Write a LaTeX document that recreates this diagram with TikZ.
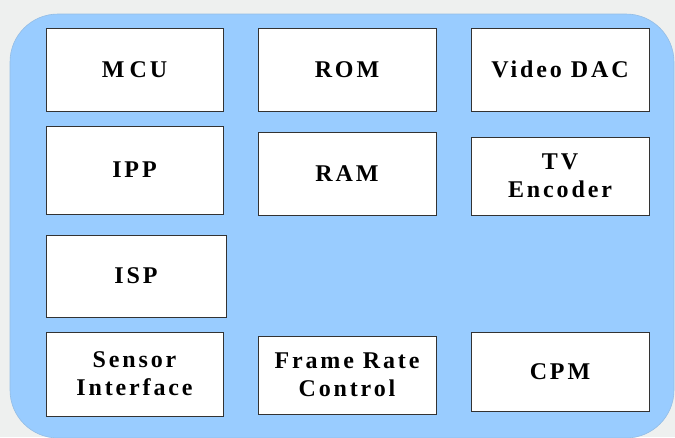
\documentclass[tikz,border=0pt]{standalone}
\usepackage{fontspec}
\setmainfont{Liberation Serif}[LetterSpace=12, BoldFont={Liberation Serif Bold}]
\definecolor{panel}{HTML}{99CCFF}
\definecolor{outside}{HTML}{EEF0EF}
\definecolor{boxline}{HTML}{333333}
\tikzset{
  block/.style={draw=boxline, line width=0.9pt, fill=white, inner sep=0pt,
    align=center, font=\fontsize{24}{28}\selectfont\bfseries, text=black},
}
\begin{document}
\begin{tikzpicture}[x=1pt,y=-1pt]
\fill[outside] (0,0) rectangle (675,437);
\useasboundingbox (0,0) rectangle (675,437);
\fill[panel, draw=panel!80!gray, line width=0.6pt, rounded corners=48pt] (10,14) rectangle (674,438);
\node[block, minimum width=177pt, minimum height=83pt] (mcu) at (134.5,69.5) {M\kern5pt CU};
\node[block, minimum width=178pt, minimum height=83pt] (rom) at (347,69.5) {ROM};
\node[block, minimum width=178pt, minimum height=83pt] (vdac) at (560,69.5) {Video DAC};
\node[block, minimum width=177pt, minimum height=88pt] (ipp) at (134.5,170) {IPP};
\node[block, minimum width=178pt, minimum height=83pt] (ram) at (347,173.5) {RAM};
\node[block, minimum width=178pt, minimum height=78pt] (tv) at (560,176) {TV\\Encoder};
\node[block, minimum width=180pt, minimum height=82pt] (isp) at (136,276) {ISP};
\node[block, minimum width=177pt, minimum height=84pt] (sensor) at (134.5,374) {Sensor\\Interface};
\node[block, minimum width=178pt, minimum height=78pt] (frc) at (347,375) {Frame Rate\\Control};
\node[block, minimum width=178pt, minimum height=79pt] (cpm) at (560,371.5) {CPM};
\end{tikzpicture}
\end{document}
